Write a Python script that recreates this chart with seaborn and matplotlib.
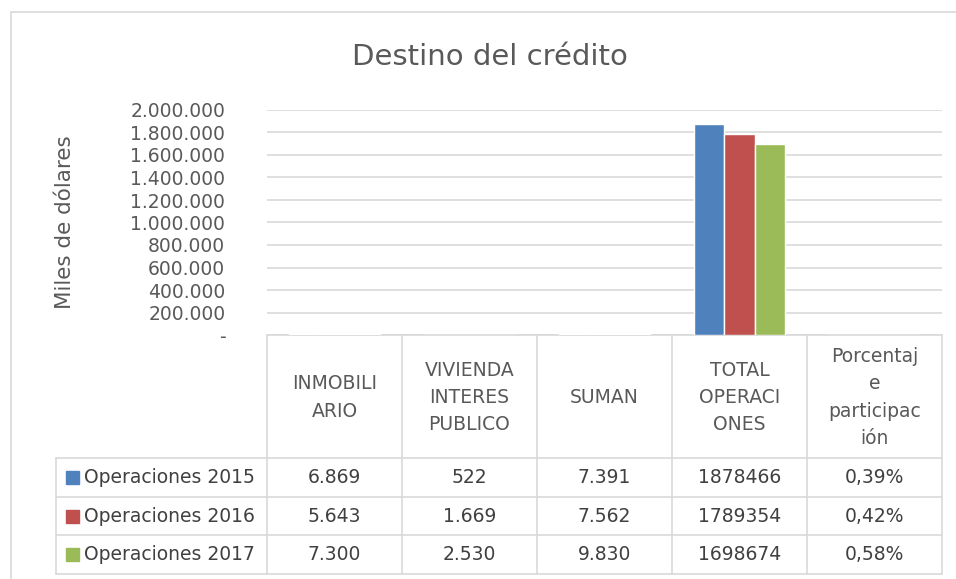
import matplotlib
matplotlib.use("Agg")
import matplotlib.pyplot as plt
import matplotlib.transforms as mtransforms
from matplotlib.patches import Rectangle
from matplotlib.lines import Line2D
import seaborn as sns
import pandas as pd

categorias = ["INMOBILI\nARIO", "VIVIENDA\nINTERES\nPUBLICO", "SUMAN",
              "TOTAL\nOPERACI\nONES", "Porcentaj\ne\nparticipac\nión"]
series = ["Operaciones 2015", "Operaciones 2016", "Operaciones 2017"]
ops_2015 = [6869, 522, 7391, 1878466, 0.0039]
ops_2016 = [5643, 1669, 7562, 1789354, 0.0042]
ops_2017 = [7300, 2530, 9830, 1698674, 0.0058]
colores = ["#4f81bd", "#c0504d", "#9bbb59"]
yticks = [0, 200000, 400000, 600000, 800000, 1000000, 1200000, 1400000,
          1600000, 1800000, 2000000]

valores = [ops_2015, ops_2016, ops_2017]
df = pd.DataFrame([(c, s, v) for s, vals in zip(series, valores)
                   for c, v in zip(categorias, vals)],
                  columns=["categoria", "serie", "valor"])


def fmt_miles(v):
    return f"{int(v):,}".replace(",", ".")


def fmt_celda(col, v):
    if col == 3:
        return f"{int(v)}"
    if col == 4:
        return f"{v * 100:.2f}%".replace(".", ",")
    return fmt_miles(v)


sns.set_style("white")
plt.rcParams["font.family"] = ["DejaVu Sans"]

W, H = 956, 579
fig = plt.figure(figsize=(W / 100, H / 100), dpi=100)


def fx(px):
    return px / W


def fy(py):
    return 1 - py / H


# plot area in pixels
L, R, T, B = 267, 942, 110, 335
ax = fig.add_axes([fx(L), fy(B), fx(R) - fx(L), fy(T) - fy(B)])

sns.barplot(data=df, x="categoria", y="valor", hue="serie", palette=colores,
            width=0.667, saturation=1, legend=False, ax=ax, zorder=3)

ax.set_xlim(-0.5, len(categorias) - 0.5)
ax.set_ylim(0, 2000000)
ax.set_yticks(yticks)
ax.set_yticklabels(["-"] + [fmt_miles(t) for t in yticks[1:]])
ax.yaxis.grid(True, color="#d9d9d9", lw=1.2, zorder=0)
ax.set_axisbelow(True)
for s in ["top", "right", "left"]:
    ax.spines[s].set_visible(False)
ax.spines["bottom"].set_color("#d9d9d9")
ax.spines["bottom"].set_linewidth(1.2)
ax.tick_params(axis="y", length=0, pad=30, labelsize=13.5, labelcolor="#595959")
ax.set_xticks([])
ax.set_xlabel("")
ax.set_ylabel("")

# title and y label
fig.text(fx(490), fy(57), "Destino del crédito", ha="center", va="center",
         fontsize=21, color="#595959")
fig.text(fx(65), fy(222), "Miles de dólares", rotation=90, ha="center",
         va="center", fontsize=15.5, color="#595959")

# outer chart frame (runs off the right and bottom edges)
fig.add_artist(Rectangle((fx(11), fy(600)), fx(980) - fx(11), fy(12) - fy(600),
                         transform=fig.transFigure, fill=False,
                         edgecolor="#d9d9d9", lw=1.2))

# data table below the plot
trans = mtransforms.blended_transform_factory(ax.transData, fig.transFigure)
line_kw = dict(color="#d9d9d9", lw=1.2)
row_y = [458, 497, 535, 574]
n = len(categorias)

for i in range(n + 1):
    xi = i - 0.5
    fig.add_artist(Line2D([xi, xi], [fy(B), fy(row_y[-1])], transform=trans, **line_kw))
for ry in row_y:
    fig.add_artist(Line2D([fx(56), fx(R)], [fy(ry), fy(ry)],
                          transform=fig.transFigure, **line_kw))
fig.add_artist(Line2D([fx(56), fx(56)], [fy(row_y[0]), fy(row_y[-1])],
                      transform=fig.transFigure, **line_kw))

# header
for i, cat in enumerate(categorias):
    fig.text(i, fy((B + row_y[0]) / 2 + 1), cat, transform=trans, ha="center",
             va="center", fontsize=13.5, color="#595959", linespacing=1.55)

# rows
for r, (s, vals, col) in enumerate(zip(series, valores, colores)):
    yc = fy((row_y[r] + row_y[r + 1]) / 2)
    fig.add_artist(Rectangle((fx(66), yc - 6.5 / H), 13 / W, 13 / H,
                             transform=fig.transFigure, color=col))
    fig.text(fx(84), yc, s, ha="left", va="center", fontsize=13.5, color="#404040")
    for i, v in enumerate(vals):
        fig.text(i, yc, fmt_celda(i, v), transform=trans, ha="center",
                 va="center", fontsize=13.5, color="#404040")

fig.savefig("out.png", dpi=100)
